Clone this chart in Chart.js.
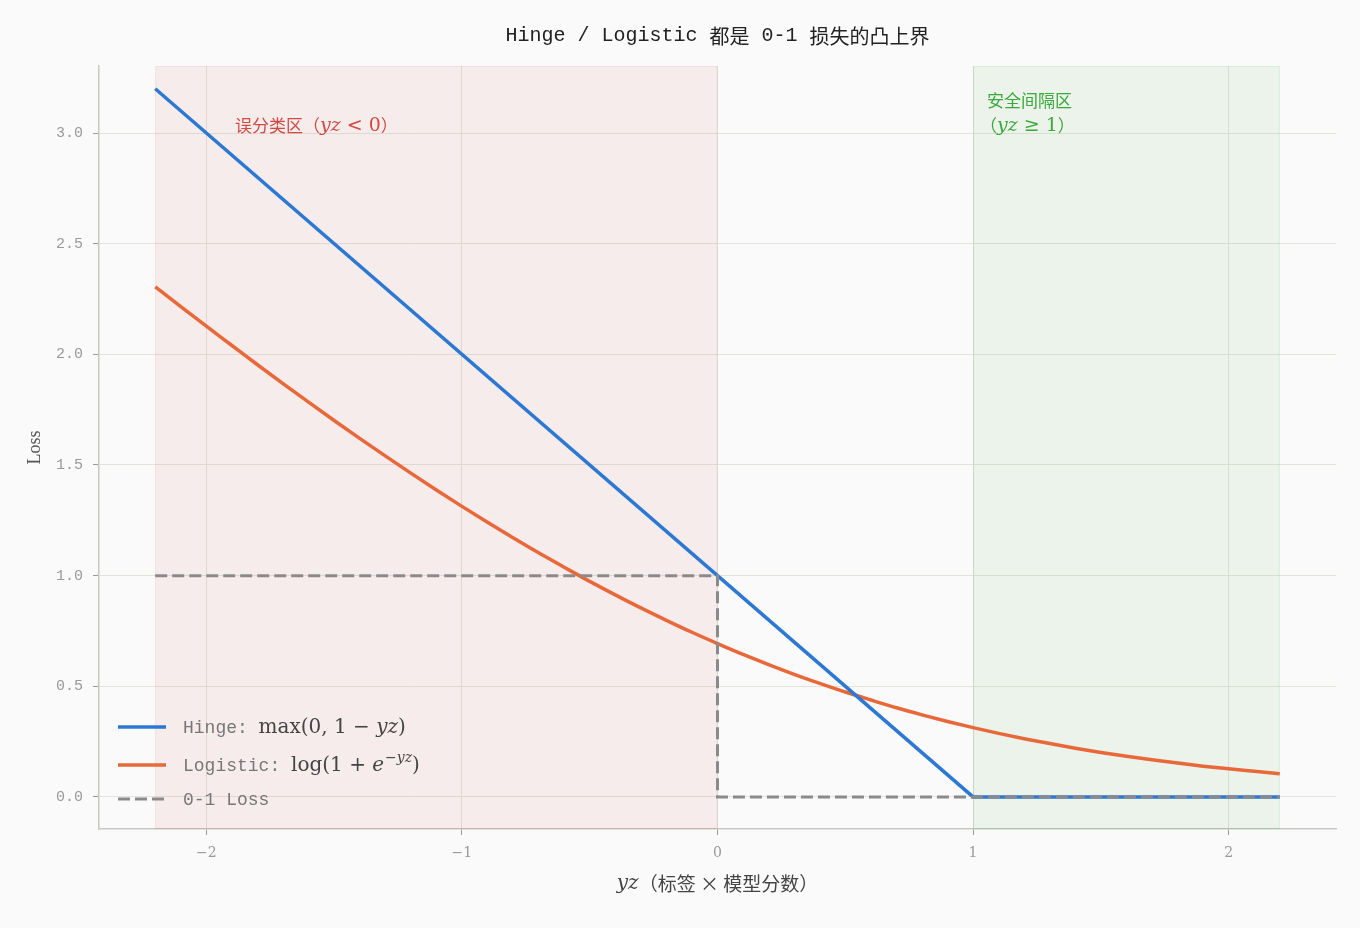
<!DOCTYPE html>
<html><head><meta charset="utf-8">
<script src="https://cdn.jsdelivr.net/npm/chart.js@4.4.1/dist/chart.umd.min.js"></script>
<style>html,body{margin:0;padding:0;background:#fafafa}</style>
</head><body>
<canvas id="c" width="1360" height="928"></canvas>
<script>
// ---- data ----
const logisticX = [-2.2,-2.1,-2.0,-1.9,-1.8,-1.7,-1.6,-1.5,-1.4,-1.3,-1.2,-1.1,-1.0,-0.9,-0.8,-0.7,-0.6,-0.5,-0.4,-0.3,-0.2,-0.1,0.0,0.1,0.2,0.3,0.4,0.5,0.6,0.7,0.8,0.9,1.0,1.1,1.2,1.3,1.4,1.5,1.6,1.7,1.8,1.9,2.0,2.1,2.2];
const logisticY = [2.305,2.216,2.127,2.040,1.953,1.868,1.784,1.701,1.620,1.541,1.463,1.387,1.313,1.241,1.171,1.103,1.038,0.974,0.913,0.854,0.798,0.744,0.693,0.644,0.598,0.554,0.513,0.474,0.438,0.403,0.371,0.341,0.313,0.287,0.263,0.241,0.220,0.201,0.184,0.168,0.153,0.139,0.127,0.116,0.105];
const hingeX = [-2.2, 1.0, 2.2];
const hingeY = [3.2, 0.0, 0.0];
const zeroOneX = [-2.2, 0.0, 0.0, 2.2];
const zeroOneY = [1.0, 1.0, 0.0, 0.0];
const xTicks = [-2, -1, 0, 1, 2];
const yTicks = [0.0, 0.5, 1.0, 1.5, 2.0, 2.5, 3.0];
const misclassRegion = [-2.2, 0.0];
const marginRegion = [1.0, 2.2];

const pts = (xs, ys) => xs.map((x, i) => ({x: x, y: ys[i]}));

const MONO = "'Liberation Mono', 'DejaVu Sans Mono', 'Noto Sans CJK SC', monospace";
const CJK = "'Noto Sans CJK SC', sans-serif";
const SERIF = "'DejaVu Serif', serif";

function drawRuns(ctx, x, y, runs, align) {
  let total = 0;
  for (const r of runs) { ctx.font = r.f; total += ctx.measureText(r.t).width + (r.dx || 0); }
  let cx = align === 'center' ? x - total / 2 : x;
  for (const r of runs) {
    ctx.font = r.f;
    ctx.fillStyle = r.c;
    ctx.fillText(r.t, cx, y + (r.dy || 0));
    cx += ctx.measureText(r.t).width + (r.dx || 0);
  }
}

const decor = {
  id: 'decor',
  beforeDraw(chart) {
    const ctx = chart.ctx;
    ctx.save();
    ctx.fillStyle = '#fafafa';
    ctx.fillRect(0, 0, chart.width, chart.height);
    ctx.restore();
  },
  beforeDatasetsDraw(chart) {
    const ctx = chart.ctx, xs = chart.scales.x, a = chart.chartArea;
    ctx.save();
    ctx.fillStyle = 'rgba(214, 60, 50, 0.07)';
    let x0 = xs.getPixelForValue(misclassRegion[0]), x1 = xs.getPixelForValue(misclassRegion[1]);
    ctx.fillRect(x0, a.top, x1 - x0, a.bottom - a.top);
    ctx.strokeStyle = 'rgba(214, 60, 50, 0.08)'; ctx.lineWidth = 1;
    ctx.strokeRect(x0 + 0.5, a.top + 0.5, x1 - x0 - 1, a.bottom - a.top - 1);
    ctx.fillStyle = 'rgba(60, 170, 60, 0.08)';
    x0 = xs.getPixelForValue(marginRegion[0]); x1 = xs.getPixelForValue(marginRegion[1]);
    ctx.fillRect(x0, a.top, x1 - x0, a.bottom - a.top);
    ctx.strokeStyle = 'rgba(60, 170, 60, 0.10)';
    ctx.strokeRect(x0 + 0.5, a.top + 0.5, x1 - x0 - 1, a.bottom - a.top - 1);
    ctx.restore();
  },
  afterDraw(chart) {
    const ctx = chart.ctx, a = chart.chartArea;
    ctx.save();
    ctx.textBaseline = 'middle';
    ctx.textAlign = 'left';
    // title
    drawRuns(ctx, (a.left + a.right) / 2, 36, [
      {t: 'Hinge / Logistic ', f: '20px ' + MONO, c: '#222'},
      {t: '都是', f: '20px ' + CJK, c: '#222'},
      {t: ' 0-1 ', f: '20px ' + MONO, c: '#222'},
      {t: '损失的凸上界', f: '20px ' + CJK, c: '#222'}
    ], 'center');
    // region labels
    const red = '#d04a44', green = '#3aa83a';
    drawRuns(ctx, 235, 126, [
      {t: '误分类区（', f: '17px ' + CJK, c: red},
      {t: 'yz', f: 'italic 19px ' + SERIF, c: red},
      {t: ' < 0', f: '19px ' + SERIF, c: red},
      {t: '）', f: '17px ' + CJK, c: red}
    ]);
    drawRuns(ctx, 987, 101, [{t: '安全间隔区', f: '17px ' + CJK, c: green}]);
    drawRuns(ctx, 980, 126, [
      {t: '（', f: '17px ' + CJK, c: green},
      {t: 'yz', f: 'italic 19px ' + SERIF, c: green},
      {t: ' ≥ 1', f: '19px ' + SERIF, c: green},
      {t: '）', f: '17px ' + CJK, c: green}
    ]);
    // legend
    const items = [
      {y: 727, color: '#2d78d2', dash: [], runs: [
        {t: 'Hinge: ', f: '18px ' + MONO, c: '#777'},
        {t: 'max(0, 1 − ', f: '20px ' + SERIF, c: '#444'},
        {t: 'yz', f: 'italic 20px ' + SERIF, c: '#444'},
        {t: ')', f: '20px ' + SERIF, c: '#444'}]},
      {y: 765, color: '#e8683a', dash: [], runs: [
        {t: 'Logistic: ', f: '18px ' + MONO, c: '#777'},
        {t: 'log(1 + ', f: '20px ' + SERIF, c: '#444'},
        {t: 'e', f: 'italic 20px ' + SERIF, c: '#444', dx: 1},
        {t: '−', f: '14px ' + SERIF, c: '#444', dy: -8},
        {t: 'yz', f: 'italic 14px ' + SERIF, c: '#444', dy: -8},
        {t: ')', f: '20px ' + SERIF, c: '#444'}]},
      {y: 799, color: '#8a8a8a', dash: [12, 5], runs: [
        {t: '0-1 Loss', f: '18px ' + MONO, c: '#777'}]}
    ];
    for (const it of items) {
      ctx.beginPath();
      ctx.setLineDash(it.dash);
      ctx.strokeStyle = it.color; ctx.lineWidth = it.dash.length ? 3 : 3.5;
      ctx.moveTo(118, it.y); ctx.lineTo(166, it.y); ctx.stroke();
      ctx.setLineDash([]);
      drawRuns(ctx, 183, it.y + 1, it.runs);
    }
    // axis titles
    drawRuns(ctx, (a.left + a.right) / 2, 884, [
      {t: 'yz', f: 'italic 20px ' + SERIF, c: '#444'},
      {t: '（标签 × 模型分数）', f: '19px ' + CJK, c: '#444'}
    ], 'center');
    ctx.translate(35, (a.top + a.bottom) / 2);
    ctx.rotate(-Math.PI / 2);
    ctx.font = "18px 'Liberation Serif', serif";
    ctx.fillStyle = '#555';
    ctx.textAlign = 'center';
    ctx.fillText('Loss', 0, 0);
    ctx.restore();
  }
};

new Chart(document.getElementById('c'), {
  type: 'scatter',
  data: {
    datasets: [
      {label: 'Hinge', data: pts(hingeX, hingeY), showLine: true, borderColor: '#2d78d2', borderWidth: 3.5, pointRadius: 0, order: 1},
      {label: 'Logistic', data: pts(logisticX, logisticY), showLine: true, borderColor: '#e8683a', borderWidth: 3.5, pointRadius: 0, cubicInterpolationMode: 'monotone', order: 2},
      {label: '0-1 Loss', data: pts(zeroOneX, zeroOneY), showLine: true, borderColor: '#8a8a8a', borderWidth: 3, borderDash: [12, 5], pointRadius: 0, order: 0}
    ]
  },
  options: {
    responsive: false,
    animation: false,
    devicePixelRatio: 1,
    layout: {padding: {top: 66, right: 24, left: 0, bottom: 0}},
    plugins: {legend: {display: false}, tooltip: {enabled: false}, title: {display: false}},
    scales: {
      x: {
        type: 'linear', min: -2.42, max: 2.42,
        afterBuildTicks: s => { s.ticks = xTicks.map(v => ({value: v})); },
        afterFit: s => { s.height = 99; },
        grid: {color: '#e3e3dc', lineWidth: 1, tickColor: '#999', tickLength: 6},
        border: {color: '#c8c8c0', width: 1.5},
        ticks: {color: '#999', padding: 10, font: {family: "'DejaVu Serif', serif", size: 14},
          callback: v => (v < 0 ? '−' + Math.abs(v) : String(v))}
      },
      y: {
        type: 'linear', min: -0.145, max: 3.303,
        afterBuildTicks: s => { s.ticks = yTicks.map(v => ({value: v})); },
        afterFit: s => { s.width = 99; },
        grid: {color: '#e3e3dc', lineWidth: 1, tickColor: '#999', tickLength: 6},
        border: {color: '#c8c8c0', width: 1.5},
        ticks: {color: '#999', padding: 10, font: {family: MONO, size: 15},
          callback: v => v.toFixed(1)}
      }
    }
  },
  plugins: [decor]
});
</script>
</body></html>
